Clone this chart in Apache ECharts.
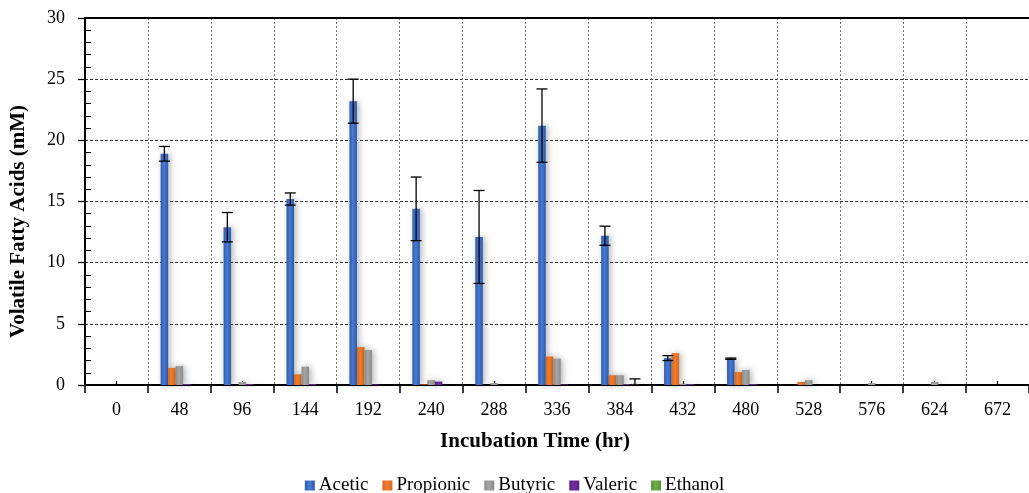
<!DOCTYPE html>
<html>
<head>
<meta charset="utf-8">
<script src="https://cdn.jsdelivr.net/npm/echarts@6/dist/echarts.min.js"></script>
<style>
html, body { margin:0; padding:0; background:#fff; }
#chart { width:1029px; height:493px; }
</style>
</head>
<body>
<div id="chart"></div>
<script>
// incubation time (hr)
const categories = ['0','48','96','144','192','240','288','336','384','432','480','528','576','624','672'];
const acetic    = [0, 18.9, 12.9, 15.2, 23.2, 14.4, 12.1, 21.2, 12.2, 2.2, 2.15, 0, 0, 0, 0];
const aceticErr = [0, 0.6, 1.2, 0.5, 1.8, 2.6, 3.8, 3.0, 0.78, 0.2, 0.05, 0, 0, 0, 0];
const propionic = [0, 1.4, 0, 0.87, 3.1, 0.05, 0, 2.33, 0.8, 2.6, 1.06, 0.25, 0, 0, 0];
const butyric   = [0, 1.55, 0.25, 1.5, 2.85, 0.4, 0.15, 2.15, 0.8, 0.1, 1.23, 0.4, 0.15, 0.25, 0];
const valeric   = [0, 0.08, 0.08, 0.08, 0.05, 0.28, 0, 0.05, 0.08, 0.08, 0.08, 0, 0, 0, 0];
const ethanol   = [0, 0, 0, 0, 0, 0, 0, 0, 0.1, 0, 0, 0, 0, 0, 0];
const ethanolErr= [0, 0, 0, 0, 0, 0, 0, 0, 0.4, 0, 0, 0, 0, 0, 0];
const yTicks = [0, 5, 10, 15, 20, 25, 30];

const names = ['Acetic','Propionic','Butyric','Valeric','Ethanol'];
const colors = ['#4a7bd0','#ED7D31','#A5A5A5','#7030A0','#70AD47'];
const edges  = ['#2b59ae','#d9671c','#8a8a8a','#5a2085','#56913a'];
const values = [acetic, propionic, butyric, valeric, ethanol];
const errors = [aceticErr, null, null, null, ethanolErr];

const barW = 7.5;
const font = '"Liberation Serif", "Times New Roman", serif';

let dom = document.getElementById('chart');
let myChart = echarts.init(dom);

const seriesData = values.map((vals, i) => ({
    name: names[i],
    type: 'bar',
    xAxisIndex: 0,
    yAxisIndex: 0,
    data: vals,
    barWidth: barW,
    barGap: '0%',
    itemStyle: {
        color: new echarts.graphic.LinearGradient(0, 0, 1, 0, [
            { offset: 0, color: edges[i] },
            { offset: 0.45, color: colors[i] },
            { offset: 1, color: edges[i] }
        ]),
        shadowColor: 'rgba(0,0,0,0.3)',
        shadowBlur: 6,
        shadowOffsetX: 2
    },
    z: 3
}));

// error bars, drawn at each bar's offset inside the group
const errData = [];
errors.forEach((errs, i) => {
    if (!errs) return;
    errs.forEach((e, k) => {
        if (e > 0) errData.push([k, values[i][k], e, i]);
    });
});
seriesData.push({
    name: 'err',
    type: 'custom',
    xAxisIndex: 0,
    yAxisIndex: 0,
    data: errData,
    z: 10,
    silent: true,
    renderItem: function (params, api) {
        const k = api.value(0);
        const v = api.value(1);
        const e = api.value(2);
        const s = api.value(3);
        const top = api.coord([k, v + e]);
        const bot = api.coord([k, Math.max(v - e, 0)]);
        const x = top[0] + (s - 2) * barW;
        const half = 5.5;
        const st = { stroke: '#000', lineWidth: 1.3 };
        return {
            type: 'group',
            children: [
                { type: 'line', shape: { x1: x, y1: top[1], x2: x, y2: bot[1] }, style: st },
                { type: 'line', shape: { x1: x - half, y1: top[1], x2: x + half, y2: top[1] }, style: st },
                { type: 'line', shape: { x1: x - half, y1: bot[1], x2: x + half, y2: bot[1] }, style: st }
            ]
        };
    }
});

let option = {
    animation: false,
    textStyle: { fontFamily: font },
    grid: {
        left: 83,
        top: 18,
        width: 948,
        height: 367,
        containLabel: false
    },
    legend: {
        data: names,
        left: 'center',
        top: 471,
        itemWidth: 10,
        itemHeight: 10,
        itemGap: 14,
        icon: 'rect',
        textStyle: { fontFamily: font, fontSize: 19, color: '#000', padding: [0, 0, 0, -1] }
    },
    xAxis: [
        {
            type: 'category',
            data: categories,
            position: 'bottom',
            name: 'Incubation Time (hr)',
            nameLocation: 'middle',
            nameGap: 46,
            nameTextStyle: { fontFamily: font, fontSize: 21, fontWeight: 'bold', color: '#000', padding: [0, 44, 0, 0] },
            axisLine: { lineStyle: { color: '#000', width: 2 } },
            axisTick: { show: true, length: 8, lineStyle: { color: '#000', width: 1.5 } },
            axisLabel: { color: '#000', fontSize: 18, margin: 16, fontFamily: font },
            splitLine: { show: true, lineStyle: { color: '#777', type: [2, 2], width: 1 } }
        },
        {
            // small ticks at category centres
            type: 'category',
            data: categories,
            position: 'bottom',
            axisLine: { show: false },
            axisTick: { show: true, alignWithLabel: true, inside: true, length: 4, lineStyle: { color: '#000', width: 1.2 } },
            axisLabel: { show: false },
            splitLine: { show: false }
        },
        {
            // top border
            type: 'category',
            data: categories,
            position: 'top',
            axisLine: { show: true, lineStyle: { color: '#000', width: 2 } },
            axisTick: { show: false },
            axisLabel: { show: false },
            splitLine: { show: false }
        }
    ],
    yAxis: [
        {
            type: 'value',
            position: 'left',
            min: yTicks[0],
            max: yTicks[yTicks.length - 1],
            interval: 5,
            name: 'Volatile Fatty Acids (mM)',
            nameLocation: 'middle',
            nameGap: 56,
            nameTextStyle: { fontFamily: font, fontSize: 21, fontWeight: 'bold', color: '#000', padding: [0, 40, 0, 0] },
            axisLine: { show: true, lineStyle: { color: '#000', width: 2 } },
            axisTick: { show: true, length: 7, lineStyle: { color: '#000', width: 1.3 } },
            axisLabel: { color: '#000', fontSize: 18, margin: 20, fontFamily: font },
            splitLine: { show: true, lineStyle: { color: '#333', type: [3, 2], width: 1 } }
        },
        {
            // minor ticks inside
            type: 'value',
            position: 'left',
            min: yTicks[0],
            max: yTicks[yTicks.length - 1],
            interval: 5,
            axisLine: { show: false },
            axisTick: { show: false, inside: true },
            minorTick: { show: true, splitNumber: 5, length: 6, lineStyle: { color: '#000', width: 1 } },
            axisLabel: { show: false },
            splitLine: { show: false }
        }
    ],
    series: seriesData
};
myChart.setOption(option);
</script>
</body>
</html>
